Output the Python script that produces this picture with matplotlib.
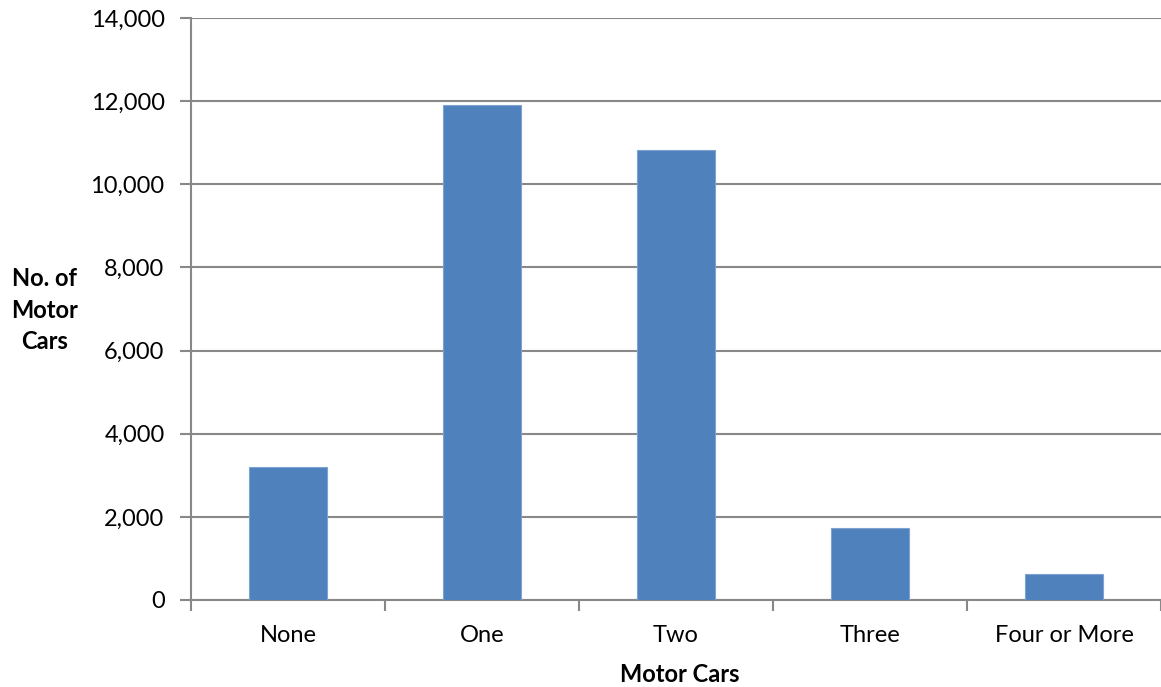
import numpy as np
import matplotlib.pyplot as plt
from matplotlib.ticker import FuncFormatter

categories = ['None', 'One', 'Two', 'Three', 'Four or More']
cars = [3190, 11900, 10820, 1730, 625]
yticks = [0, 2000, 4000, 6000, 8000, 10000, 12000, 14000]

plt.rcParams['font.family'] = ['Lato', 'DejaVu Sans']

fig = plt.figure(figsize=(11.61, 6.87), dpi=100)
ax = fig.add_axes([191 / 1161, 1 - 600 / 687, 970 / 1161, 582 / 687])

x = np.arange(len(categories))
ax.bar(x, cars, width=0.4, color='#4F81BD', edgecolor='#7FA3D0', linewidth=0.8, zorder=3)

ax.set_xlim(-0.5, len(categories) - 0.5)
ax.set_ylim(0, 14000)
ax.set_yticks(yticks)
ax.yaxis.set_major_formatter(FuncFormatter(lambda v, p: f'{int(v):,}'))
ax.grid(axis='y', color='#888888', linewidth=1.5, zorder=0)

# category ticks sit between bars
ax.set_xticks(np.arange(len(categories) + 1) - 0.5)
ax.set_xticklabels([])
ax.set_xticks(x, minor=True)
ax.set_xticklabels(categories, minor=True)
ax.tick_params(axis='x', which='minor', length=0, labelsize=17, pad=18)
ax.tick_params(axis='x', which='major', length=8, width=1.5, color='#888888')
ax.tick_params(axis='y', length=8, width=1.5, color='#888888', labelsize=17, pad=11)

for s in ['top', 'right']:
    ax.spines[s].set_visible(False)
for s in ['left', 'bottom']:
    ax.spines[s].set_color('#888888')
    ax.spines[s].set_linewidth(1.5)

fig.text(680 / 1161, 1 - 675 / 687, 'Motor Cars', ha='center', va='center',
         fontsize=17, fontweight='bold')
fig.text(45 / 1161, 1 - 310 / 687, 'No. of\nMotor\nCars', ha='center', va='center',
         fontsize=17, fontweight='bold', linespacing=1.45)

fig.savefig('out.png', dpi=100)
